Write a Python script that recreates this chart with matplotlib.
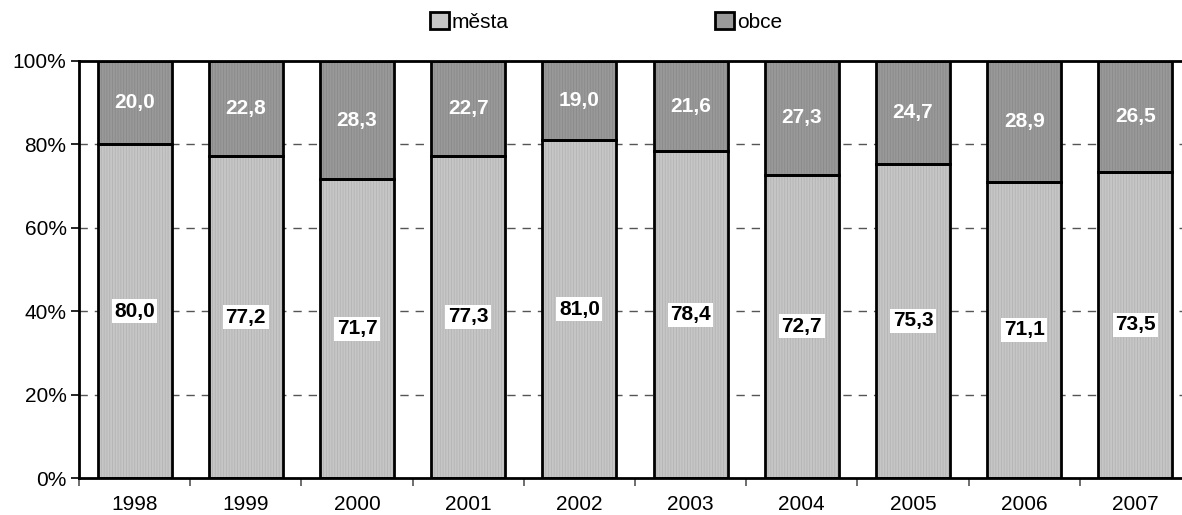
import matplotlib
matplotlib.use("Agg")
import matplotlib.pyplot as plt
from matplotlib.patches import Patch
import numpy as np

years = ["1998", "1999", "2000", "2001", "2002", "2003", "2004", "2005", "2006", "2007"]
mesta = [80.0, 77.2, 71.7, 77.3, 81.0, 78.4, 72.7, 75.3, 71.1, 73.5]
obce = [20.0, 22.8, 28.3, 22.7, 19.0, 21.6, 27.3, 24.7, 28.9, 26.5]
series_names = ["města", "obce"]
yticks = [0, 20, 40, 60, 80, 100]

plt.rcParams['font.family'] = ['Liberation Sans', 'DejaVu Sans']
plt.rcParams['hatch.linewidth'] = 0.6

W, H = 1182, 515
fig = plt.figure(figsize=(W / 100, H / 100), dpi=100)
ax = fig.add_axes([79 / W, 1 - 478 / H, (1191 - 79) / W, (478 - 61) / H])

x = np.arange(len(years))
bw = 0.665
c_low, c_low_h = "#c6c6c6", "#b4b4b4"
c_up, c_up_h = "#999999", "#8a8a8a"

ax.bar(x, mesta, bw, color=c_low, edgecolor=c_low_h, hatch="||||||", linewidth=0, zorder=2)
ax.bar(x, obce, bw, bottom=mesta, color=c_up, edgecolor=c_up_h, hatch="||||||", linewidth=0, zorder=2)
ax.bar(x, mesta, bw, fill=False, edgecolor="black", linewidth=2, zorder=3)
ax.bar(x, obce, bw, bottom=mesta, fill=False, edgecolor="black", linewidth=2, zorder=3)

for xi, m, o in zip(x, mesta, obce):
    ax.text(xi, m / 2, f"{m:.1f}".replace(".", ","), ha="center", va="center",
            fontsize=15, fontweight="bold", color="black", zorder=5,
            bbox=dict(boxstyle="square,pad=0.12", facecolor="white", edgecolor="none"))
    ax.text(xi, m + o / 2, f"{o:.1f}".replace(".", ","), ha="center", va="center",
            fontsize=15, fontweight="bold", color="white", zorder=5)

ax.set_xlim(-0.5, len(years) - 0.5)
ax.set_ylim(0, 100)
ax.set_yticks(yticks)
ax.set_yticklabels([f"{v}%" for v in yticks], fontsize=15)
ax.set_xticks(x)
ax.set_xticklabels(years, fontsize=15)
ax.set_xticks(np.arange(-0.5, len(years), 1), minor=True)
ax.tick_params(axis="x", which="major", length=0, pad=12)
ax.tick_params(axis="x", which="minor", length=6, color="#555555", width=1.2)
ax.tick_params(axis="y", length=6, width=1.2, color="black", pad=3)

for v in yticks[1:-1]:
    ax.axhline(v, color="#555555", linestyle=(0, (6, 5)), linewidth=1.0, zorder=1)

for s in ["left", "bottom", "top"]:
    ax.spines[s].set_linewidth(2)
    ax.spines[s].set_color("black")
ax.spines["right"].set_visible(False)

colors = [c_low, c_up]
lx = [430, 715]
for name, col, px in zip(series_names, colors, lx):
    h = Patch(facecolor=col, edgecolor="black", linewidth=2)
    fig.legend([h], [name], loc="center left", bbox_to_anchor=(px / W, 1 - 22 / H),
               frameon=False, fontsize=15, handlelength=0.9, handleheight=0.9,
               handletextpad=0.15, borderpad=0, borderaxespad=0)

fig.savefig("out.png", dpi=100)
